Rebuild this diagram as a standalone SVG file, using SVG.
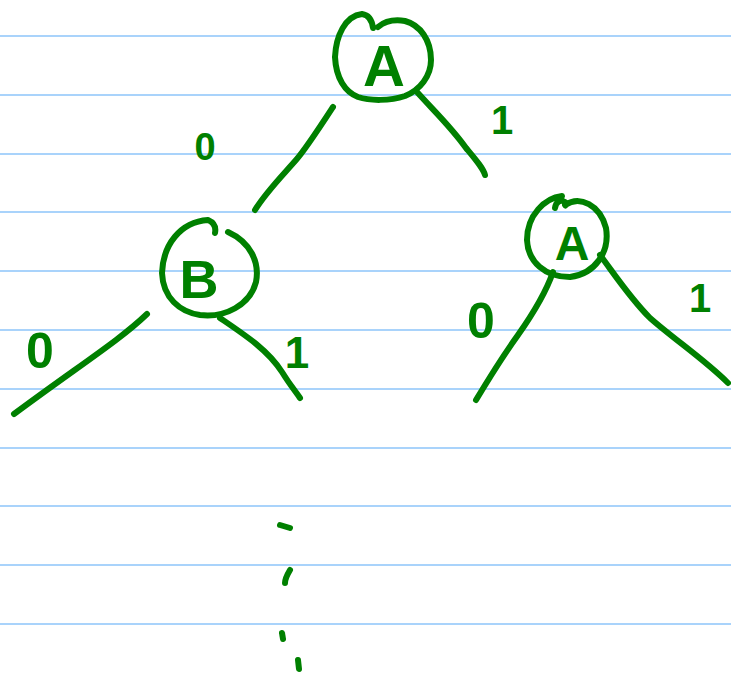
<svg xmlns="http://www.w3.org/2000/svg" width="731" height="675" viewBox="0 0 731 675">
  <style>
    .rule { stroke: #a9d3fb; stroke-width: 2; }
    .ink { fill: none; stroke: #008000; stroke-width: 6; stroke-linecap: round; stroke-linejoin: round; }
    .node-label { fill: #008000; font-family: "Liberation Sans", Arial, sans-serif; font-weight: bold; text-anchor: middle; }
    .edge-label { fill: #008000; font-family: "Liberation Sans", Arial, sans-serif; font-weight: bold; text-anchor: middle; }
  </style>

  <rect width="731" height="675" fill="#ffffff"/>

  <!-- ruled notebook lines -->
  <g id="ruling">
    <line class="rule" x1="0" y1="36" x2="731" y2="36"/>
    <line class="rule" x1="0" y1="95" x2="731" y2="95"/>
    <line class="rule" x1="0" y1="154" x2="731" y2="154"/>
    <line class="rule" x1="0" y1="212" x2="731" y2="212"/>
    <line class="rule" x1="0" y1="271" x2="731" y2="271"/>
    <line class="rule" x1="0" y1="330" x2="731" y2="330"/>
    <line class="rule" x1="0" y1="389" x2="731" y2="389"/>
    <line class="rule" x1="0" y1="448" x2="731" y2="448"/>
    <line class="rule" x1="0" y1="506" x2="731" y2="506"/>
    <line class="rule" x1="0" y1="565" x2="731" y2="565"/>
    <line class="rule" x1="0" y1="624" x2="731" y2="624"/>
  </g>

  <!-- tree edges with their 0/1 labels -->
  <g id="connectors">
    <path class="ink" d="M333,107 C318,130 305,150 296,160 C282,176 266,192 255,210"/>
    <path class="ink" d="M417,92 C435,112 452,128 466,148 C476,160 483,168 485,175"/>
    <path class="ink" d="M147,314 C120,340 80,365 14,414"/>
    <path class="ink" d="M220,318 C245,335 268,350 282,372 C290,385 296,392 300,398"/>
    <path class="ink" d="M553,272 C545,295 530,318 518,335 C500,360 488,380 476,400"/>
    <path class="ink" d="M600,255 C615,275 630,298 650,318 C675,340 705,360 728,383"/>

    <text class="edge-label" x="205" y="160" font-size="38">0</text>
    <text class="edge-label" x="502" y="134" font-size="40">1</text>
    <text class="edge-label" x="40" y="368" font-size="50">0</text>
    <text class="edge-label" x="297" y="368" font-size="44">1</text>
    <text class="edge-label" x="481" y="338" font-size="50">0</text>
    <text class="edge-label" x="700" y="312" font-size="40">1</text>

    <!-- continuation marks below B -->
    <path class="ink" d="M280,525 L290,528"/>
    <path class="ink" d="M290,570 C287,575 285,579 285,583"/>
    <path class="ink" d="M282,633 L283,639"/>
    <path class="ink" d="M298,660 L299,669"/>
  </g>

  <g id="node-root-A">
    <path class="ink" d="M373,28 C372,20 369,15 362,14 C345,16 336,36 335,57 C336,78 345,92 358,97 C370,101 390,101 405,96 C420,90 431,76 431,60 C431,40 420,25 405,21 C393,19 384,22 378,27"/>
    <text class="node-label" x="384" y="86" font-size="58">A</text>
  </g>

  <g id="node-B">
    <path class="ink" d="M215,233 C216,228 215,223 208,220 C180,222 163,245 162,273 C163,298 180,312 200,315 C225,318 250,305 256,282 C260,262 250,242 228,232"/>
    <text class="node-label" x="199" y="298" font-size="54">B</text>
  </g>

  <g id="node-right-A">
    <path class="ink" d="M555,208 C556,202 560,199 565,202 C566,204 566,207 565,205 C580,195 600,205 606,228 C610,252 595,274 570,277 C545,277 528,262 527,240 C527,215 545,198 562,196"/>
    <text class="node-label" x="572" y="260" font-size="48">A</text>
  </g>
</svg>
